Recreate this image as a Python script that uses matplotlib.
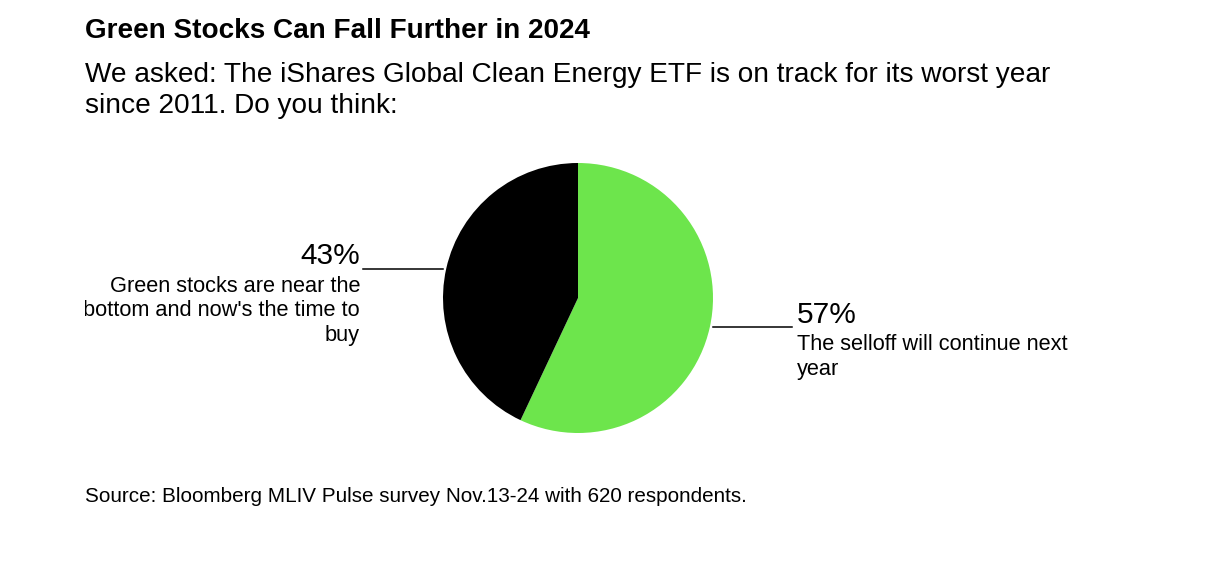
import matplotlib
matplotlib.use("Agg")
import matplotlib.pyplot as plt
from matplotlib.patches import Rectangle

plt.rcParams['font.family'] = ['Liberation Sans', 'DejaVu Sans']

title = "Green Stocks Can Fall Further in 2024"
subtitle_lines = ["We asked: The iShares Global Clean Energy ETF is on track for its worst year",
                  "since 2011. Do you think:"]
source = "Source: Bloomberg MLIV Pulse survey Nov.13-24 with 620 respondents."

categories = [["The selloff will continue next", "year"],
              ["Green stocks are near the", "bottom and now's the time to", "buy"]]
values = [57, 43]
colors = ["#6de54c", "#000000"]

W, H = 1224, 566
fig = plt.figure(figsize=(W / 100, H / 100), dpi=100)

# pie axes
cx, cy, r = 578, 298, 135
pax = fig.add_axes([(cx - r) / W, 1 - (cy + r) / H, 2 * r / W, 2 * r / H])
pax.pie(values, colors=colors, startangle=90, counterclock=False, radius=1,
        wedgeprops=dict(linewidth=0))
pax.set_xlim(-1, 1)
pax.set_ylim(-1, 1)
pax.set_aspect('equal')
pax.axis('off')

# overlay axes in pixel coords
ax = fig.add_axes([0, 0, 1, 1], zorder=-1)
ax.set_xlim(0, W)
ax.set_ylim(H, 0)
ax.axis('off')

ax.text(85, 38, title, fontsize=20.1, fontweight='bold', ha='left', va='baseline')
for i, line in enumerate(subtitle_lines):
    ax.text(85, 82 + i * 31, line, fontsize=20.2, ha='left', va='baseline')

clip = Rectangle((85, 0), W, H, transform=ax.transData, visible=False)
ax.add_patch(clip)

# left label (43%)
ax.plot([363, 443], [269, 269], color='black', lw=1.1)
ax.text(360, 264, f"{values[1]}%", fontsize=21.5, ha='right', va='baseline')
for i, line in enumerate(categories[1]):
    t = ax.text(360, 292 + i * 24.5, line, fontsize=15.7, ha='right', va='baseline')
    t.set_clip_path(clip)
    t.set_clip_on(True)

# right label (57%)
ax.plot([713, 792], [327, 327], color='black', lw=1.1)
ax.text(797, 323, f"{values[0]}%", fontsize=21.5, ha='left', va='baseline')
for i, line in enumerate(categories[0]):
    ax.text(797, 350 + i * 24.5, line, fontsize=15.7, ha='left', va='baseline')

ax.text(85, 502, source, fontsize=14.9, ha='left', va='baseline')

fig.savefig("out.png", dpi=100, facecolor='white')
